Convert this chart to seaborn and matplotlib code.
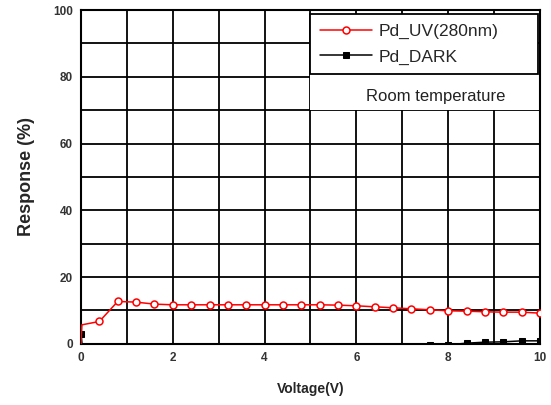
import numpy as np
import matplotlib
matplotlib.use("Agg")
import matplotlib.pyplot as plt
import seaborn as sns
from matplotlib.patches import Rectangle

# data
voltage_uv = [0.0, 0.02, 0.4, 0.8, 1.2, 1.6, 2.0, 2.4, 2.8, 3.2, 3.6, 4.0, 4.4, 4.8,
              5.2, 5.6, 6.0, 6.4, 6.8, 7.2, 7.6, 8.0, 8.4, 8.8, 9.2, 9.6, 10.0]
response_uv = [0.0, 5.7, 6.7, 12.7, 12.5, 11.9, 11.7, 11.7, 11.7, 11.7, 11.7, 11.7, 11.7, 11.7,
               11.7, 11.6, 11.4, 11.1, 10.8, 10.5, 10.2, 9.9, 9.8, 9.6, 9.5, 9.5, 9.2]

voltage_dark = [0.0, 0.03, 0.4, 0.8, 1.2, 1.6, 2.0, 2.4, 2.8, 3.2, 3.6, 4.0, 4.4, 4.8,
                5.2, 5.6, 6.0, 6.4, 6.8, 7.2, 7.6, 8.0, 8.4, 8.8, 9.2, 9.6, 10.0]
response_dark = [3.0, -1.0, -1.0, -1.0, -1.0, -1.0, -1.0, -1.0, -1.0, -1.0, -1.0, -1.0, -1.0, -1.0,
                 -1.0, -1.0, -1.0, -1.0, -1.0, -1.0, -0.4, -0.3, 0.2, 0.5, 0.6, 0.9, 0.9]

sns.set_style("white")
plt.rcParams['font.family'] = ['Liberation Sans', 'DejaVu Sans']

fig = plt.figure(figsize=(5.51, 4.05), dpi=100)
ax = fig.add_axes([0.147, 0.151, 0.833, 0.824])

sns.lineplot(x=voltage_uv, y=response_uv, ax=ax, color='red', lw=1.1,
             marker='o', markersize=5, markerfacecolor='white', markeredgecolor='red',
             markeredgewidth=1.1, markevery=list(range(2, len(voltage_uv))),
             label='Pd_UV(280nm)', zorder=5, sort=False)
sns.lineplot(x=voltage_dark, y=response_dark, ax=ax, color='black', lw=1.1,
             marker='s', markersize=5, markerfacecolor='black', markeredgecolor='black',
             label='Pd_DARK', zorder=4, sort=False)

ax.set_xlim(0, 10)
ax.set_ylim(0, 100)
ax.set_xticks(np.arange(0, 11, 2))
ax.set_xticks(np.arange(0, 11, 1), minor=True)
ax.set_yticks(np.arange(0, 101, 20))
ax.set_yticks(np.arange(0, 101, 10), minor=True)
ax.grid(True, which='both', color='black', lw=1.3)
ax.set_axisbelow(True)
ax.tick_params(which='both', length=0)
ax.tick_params(labelsize=8.5, labelcolor='#333333')
for lab in ax.get_xticklabels() + ax.get_yticklabels():
    lab.set_fontweight('bold')
ax.tick_params(axis='x', pad=6)
ax.tick_params(axis='y', pad=6)
for s in ax.spines.values():
    s.set_color('black')
    s.set_linewidth(1.5)

ax.set_xlabel('Voltage(V)', fontsize=10, fontweight='bold', labelpad=13)
ax.set_ylabel('Response (%)', fontsize=13, fontweight='bold', labelpad=13)

# white panel behind the annotation
ax.add_patch(Rectangle((0.5, 0.70), 0.5, 0.125, transform=ax.transAxes,
                       facecolor='white', edgecolor='none', zorder=2))
ax.text(0.773, 0.74, 'Room temperature', transform=ax.transAxes, fontsize=12,
        ha='center', va='center', color='#222222', zorder=3)

leg = ax.legend(loc='upper left', bbox_to_anchor=(0.5, 0.823, 0.496, 0.165), mode='expand',
                fontsize=12.5, frameon=True, fancybox=False, borderaxespad=0,
                handlelength=3.0, handletextpad=0.4, borderpad=0.55, labelspacing=0.6)
leg.get_frame().set_edgecolor('black')
leg.get_frame().set_linewidth(1.3)
leg.get_frame().set_alpha(1)

fig.savefig('out.png', dpi=100)
